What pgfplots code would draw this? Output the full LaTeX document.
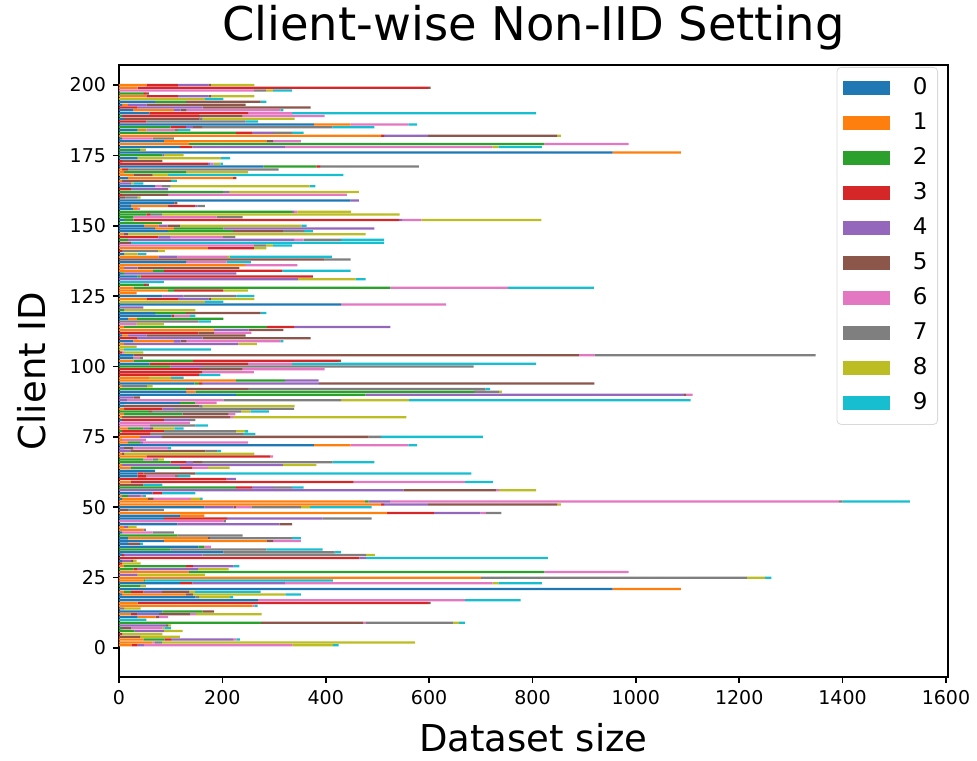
\documentclass[border=0pt]{standalone}
\usepackage{pgfplots}
\usepackage{pgfplotstable}
\usepackage{fontspec}
\setmainfont{DejaVu Sans}
\pgfplotsset{compat=1.18}

\definecolor{c0}{HTML}{1F77B4}
\definecolor{c1}{HTML}{FF7F0E}
\definecolor{c2}{HTML}{2CA02C}
\definecolor{c3}{HTML}{D62728}
\definecolor{c4}{HTML}{9467BD}
\definecolor{c5}{HTML}{8C564B}
\definecolor{c6}{HTML}{E377C2}
\definecolor{c7}{HTML}{7F7F7F}
\definecolor{c8}{HTML}{BCBD22}
\definecolor{c9}{HTML}{17BECF}

% samples per class (0-9) held by each client
\pgfplotstableread{
id a0 a1 a2 a3 a4 a5 a6 a7 a8 a9
1 0 24 0 12 12 0 288 0 78 11
2 0 65 0 0 0 0 5 13 490 0
3 0 47 41 13 120 0 6 0 0 7
4 0 0 0 0 0 41 0 0 77 0
5 0 0 0 6 0 0 0 0 78 0
6 0 0 30 0 57 0 0 0 36 0
7 0 0 6 0 0 17 61 0 4 13
8 0 0 0 0 91 4 0 0 6 0
9 0 0 275 0 0 198 5 169 11 11
10 0 0 0 0 0 0 0 0 0 53
11 36 35 0 0 0 6 18 0 0 0
12 0 23 0 13 41 61 11 0 127 0
13 84 0 78 0 0 22 0 0 0 0
14 0 0 0 0 0 0 0 10 32 0
15 0 258 0 0 0 0 4 0 0 6
16 0 36 0 562 0 5 0 0 0 0
17 269 0 0 0 0 0 400 0 0 108
18 148 0 0 0 0 0 0 7 60 6
19 6 124 0 0 0 13 0 0 179 30
20 0 10 13 24 36 53 0 0 11 127
21 955 132 0 0 0 0 0 0 0 0
22 0 0 41 0 0 0 0 0 11 0
23 118 0 0 24 179 0 402 0 11 84
24 0 47 4 0 0 0 0 0 0 363
25 0 700 0 0 0 0 0 515 35 12
26 0 0 0 0 36 0 0 0 130 0
27 0 135 688 0 0 0 163 0 0 0
28 0 0 28 7 118 0 0 0 59 0
29 0 10 120 13 79 0 0 0 0 11
30 0 0 0 6 0 0 0 0 36 0
31 6 0 0 0 17 5 0 0 6 0
32 0 0 0 465 13 0 0 0 0 352
33 6 0 0 4 152 0 0 316 17 0
34 202 0 0 0 0 0 0 215 0 13
35 0 0 100 0 0 0 0 185 0 109
36 154 0 11 0 0 0 13 0 0 0
37 17 0 0 0 0 24 0 0 0 5
38 87 198 0 0 0 13 54 0 0 0
39 17 155 0 0 0 4 0 159 0 17
40 0 0 113 0 0 0 0 126 0 0
41 6 0 0 0 0 0 59 41 0 0
42 0 47 0 0 0 0 0 5 0 0
43 0 10 0 0 7 0 0 0 17 0
44 113 0 0 0 198 24 0 0 0 0
45 0 0 0 0 0 0 202 5 0 0
46 87 0 0 122 185 0 0 95 0 0
47 118 47 0 0 0 0 0 0 0 0
48 0 519 0 90 90 0 11 30 0 0
49 0 0 0 0 0 17 0 70 0 0
50 165 0 0 0 57 4 30 96 18 119
51 0 507 0 6 85 250 0 0 7 0
52 0 476 7 0 41 0 869 7 0 130
53 6 50 0 0 0 11 72 0 18 5
54 0 6 11 0 24 0 5 0 0 6
55 65 0 0 18 0 0 0 0 0 65
56 0 0 0 0 550 179 6 0 72 0
57 0 0 226 31 41 0 0 37 0 22
58 0 0 0 0 0 47 0 0 0 37
59 0 23 0 431 0 0 215 0 0 55
60 0 0 0 208 18 0 0 0 0 0
61 36 0 0 17 0 0 55 6 0 24
62 36 0 0 11 0 101 0 0 0 534
63 70 0 0 0 0 0 0 0 0 0
64 0 23 95 24 0 0 30 0 42 0
65 0 6 0 0 311 0 0 0 65 0
66 0 0 100 30 13 18 0 252 0 81
67 0 0 47 0 0 0 18 11 11 0
68 0 53 0 240 0 0 5 0 0 0
69 0 6 0 0 0 4 0 0 252 0
70 0 0 0 0 23 144 0 24 0 6
71 0 0 0 0 10 18 67 0 0 6
72 377 71 0 0 0 0 112 0 0 17
73 0 17 24 0 5 0 204 0 0 0
74 0 6 0 0 0 0 46 0 0 0
75 0 41 0 0 42 400 0 24 0 197
76 0 0 0 60 0 0 0 180 0 24
77 0 0 6 81 0 0 0 139 18 6
78 0 17 30 0 13 6 0 0 41 18
79 0 0 0 0 0 0 60 88 0 24
80 0 0 0 0 0 0 137 0 0 0
81 6 0 0 81 50 0 0 11 0 0
82 0 6 0 0 0 209 6 0 335 0
83 0 10 113 0 0 89 13 0 0 0
84 0 0 58 0 0 6 0 173 17 36
85 0 10 0 74 22 0 0 233 0 0
86 10 0 0 0 0 146 0 6 178 0
87 118 0 30 0 0 0 41 0 0 0
88 0 0 0 0 15 0 187 228 131 545
89 0 0 0 0 28 13 0 0 0 0
90 226 0 251 0 616 5 12 0 0 0
91 130 18 539 0 0 0 0 48 6 0
92 0 0 130 0 0 120 0 459 0 9
93 0 6 0 0 0 0 0 48 11 0
94 146 0 9 6 226 533 0 0 0 0
95 0 226 95 0 65 0 0 0 0 0
96 0 58 0 0 0 0 0 0 43 24
97 0 0 0 155 0 0 0 0 0 41
98 0 0 0 161 0 0 100 0 0 0
99 0 0 0 155 0 84 159 0 0 0
100 0 0 100 0 61 0 0 525 0 0
101 59 0 0 191 0 0 85 0 0 472
102 0 28 115 281 0 6 0 0 0 0
103 28 0 0 0 0 0 13 5 0 0
104 28 0 0 0 0 862 30 428 0 0
105 0 0 0 6 0 0 4 0 37 0
106 0 0 0 0 0 0 0 0 10 168
107 0 0 0 0 0 0 0 0 34 0
108 0 10 0 0 221 0 0 0 36 0
109 28 78 0 0 13 12 181 0 0 6
110 0 0 0 36 126 209 0 0 0 0
111 6 11 0 0 36 192 0 0 0 0
112 0 0 0 154 0 30 72 0 0 0
113 0 184 0 0 67 67 0 0 0 0
114 0 10 276 53 186 0 0 0 0 0
115 0 0 0 0 0 0 34 0 53 0
116 0 0 0 0 0 0 0 154 0 24
117 17 18 167 0 0 0 0 0 0 0
118 102 0 0 4 0 0 31 0 0 11
119 70 0 60 0 0 144 0 0 0 11
120 0 0 10 0 0 0 0 0 138 0
121 0 0 0 0 47 0 0 0 0 0
122 430 0 0 0 0 0 203 0 0 0
123 0 0 0 0 0 0 0 0 166 36
124 0 53 0 61 59 5 0 0 84 0
125 84 0 0 0 41 0 0 102 0 35
126 0 34 0 0 0 0 0 0 0 0
127 0 95 11 96 0 0 0 0 48 0
128 0 28 497 0 0 0 228 0 0 166
129 0 0 48 4 0 6 0 0 0 0
130 0 0 0 0 0 0 0 0 0 87
131 0 0 0 0 346 0 0 0 112 19
132 36 0 6 333 0 0 0 0 0 0
133 6 0 4 0 217 0 0 0 0 0
134 0 66 21 229 0 0 0 0 0 132
135 0 10 0 0 26 197 0 0 0 0
136 0 244 0 0 0 0 101 0 0 0
137 130 0 0 0 0 0 78 0 0 47
138 0 0 0 0 0 398 0 50 0 0
139 0 76 0 0 37 0 96 0 5 198
140 10 0 0 0 0 0 0 0 26 17
141 0 0 0 6 0 0 0 70 13 0
142 0 172 0 89 0 0 0 0 24 0
143 0 0 0 0 0 0 261 24 13 37
144 0 0 0 0 0 23 0 0 0 490
145 0 0 17 0 322 0 18 73 0 83
146 0 0 0 76 24 0 101 24 0 0
147 0 10 0 0 0 7 0 0 460 0
148 95 0 126 0 0 96 0 41 0 17
149 70 36 96 0 292 0 0 0 0 0
150 48 28 0 0 18 24 0 0 235 10
151 0 0 83 0 0 0 0 0 0 0
152 10 0 18 514 6 0 37 0 232 0
153 0 0 28 0 0 0 161 50 0 0
154 0 0 53 7 0 0 0 24 459 0
155 0 0 335 0 4 0 6 0 104 0
156 28 7 0 0 0 0 6 0 0 0
157 23 72 0 53 4 0 0 14 0 0
158 107 0 0 0 0 6 0 0 0 0
159 448 0 0 0 16 0 0 0 0 0
160 0 0 0 0 0 13 0 23 6 0
161 0 0 0 6 0 89 346 0 0 0
162 0 0 201 0 0 0 0 13 250 0
163 0 0 0 23 72 0 0 0 0 0
164 70 0 0 0 0 0 13 17 269 11
165 0 0 0 0 23 0 0 0 5 19
166 0 6 0 0 0 95 0 0 0 11
167 17 204 0 6 0 0 0 0 0 0
168 0 28 0 0 0 37 0 0 30 339
169 0 10 120 0 0 0 0 0 120 0
170 0 6 0 11 0 0 0 292 0 0
171 280 0 102 7 0 0 0 191 0 0
172 0 0 0 172 5 0 6 0 13 5
173 0 0 0 6 0 78 0 0 0 0
174 36 0 0 0 0 0 0 0 161 18
175 0 0 84 0 4 0 0 0 37 0
176 955 132 0 0 0 0 0 0 0 0
177 0 0 41 0 0 0 0 0 11 0
178 118 0 0 24 179 0 402 0 11 84
179 0 135 688 0 0 0 163 0 0 0
180 87 198 0 0 0 13 54 0 0 0
181 6 0 0 0 0 0 59 41 0 0
182 0 507 0 6 85 250 0 0 7 0
183 0 0 226 31 41 0 0 37 0 22
184 36 17 0 0 0 0 55 6 0 24
185 0 0 100 30 13 18 0 252 0 81
186 377 71 0 0 0 0 112 0 0 17
187 0 0 0 53 0 0 0 192 0 24
188 10 0 0 0 0 146 0 6 178 0
189 0 0 6 149 0 84 159 0 0 0
190 59 0 0 191 0 0 85 0 0 472
191 28 78 0 0 13 12 181 0 0 6
192 0 0 0 36 126 209 0 0 0 0
193 6 11 0 0 36 192 0 0 0 0
194 70 0 60 0 0 144 0 0 0 11
195 0 0 0 0 0 0 0 0 166 36
196 0 53 0 61 59 5 0 0 84 0
197 0 0 48 4 0 6 0 0 0 0
198 0 0 0 0 0 0 261 24 13 37
199 0 36 0 562 0 5 0 0 0 0
200 0 53 0 61 59 5 0 0 84 0
}\clients

\begin{document}
\begin{tikzpicture}
\begin{axis}[
  scale only axis,
  width=414.5pt, height=306pt,
  xbar stacked,
  bar width=0.8,
  xmin=0, xmax=1604,
  ymin=-10.3, ymax=207.1,
  xtick={0,200,...,1600},
  ytick={0,25,...,200},
  xtick pos=left, ytick pos=left,
  tick align=outside,
  major tick length=3pt,
  every tick/.style={black, line width=0.8pt},
  axis line style={line width=0.8pt},
  /pgf/number format/assume math mode=true,
  /pgf/number format/1000 sep={},
  tick label style={font=\fontsize{9.5}{11}\selectfont},
  title={Client-wise Non-IID Setting},
  title style={font=\fontsize{23.2}{27}\selectfont, yshift=-2pt},
  xlabel={Dataset size},
  ylabel={Client ID},
  label style={font=\fontsize{18.5}{22}\selectfont},
  xlabel style={yshift=-2.5pt},
  ylabel style={yshift=5pt},
  legend style={at={(1,1)}, anchor=north east, xshift=-5pt, yshift=-1pt,
    draw=black!15, rounded corners=2pt, font=\fontsize{11.5}{13}\selectfont,
    nodes={text height=8.5pt, text depth=2.5pt, inner sep=2pt},
    row sep=2.5pt, inner xsep=3pt, inner ysep=3pt},
  legend cell align=left,
  legend image code/.code={%
    \fill[#1, sharp corners] (0pt,-3.5pt) rectangle (23.5pt,3.5pt);
    \path (33pt,0pt);},
]
\pgfplotsinvokeforeach{0,...,9}{
  \addplot[fill=c#1, draw=none] table[x=a#1, y=id] {\clients};
  \addlegendentry{#1}
}
\end{axis}
\pgfresetboundingbox
\path (-59.5pt,-41.5pt) rectangle (429pt,338.5pt);
\end{tikzpicture}
\end{document}
